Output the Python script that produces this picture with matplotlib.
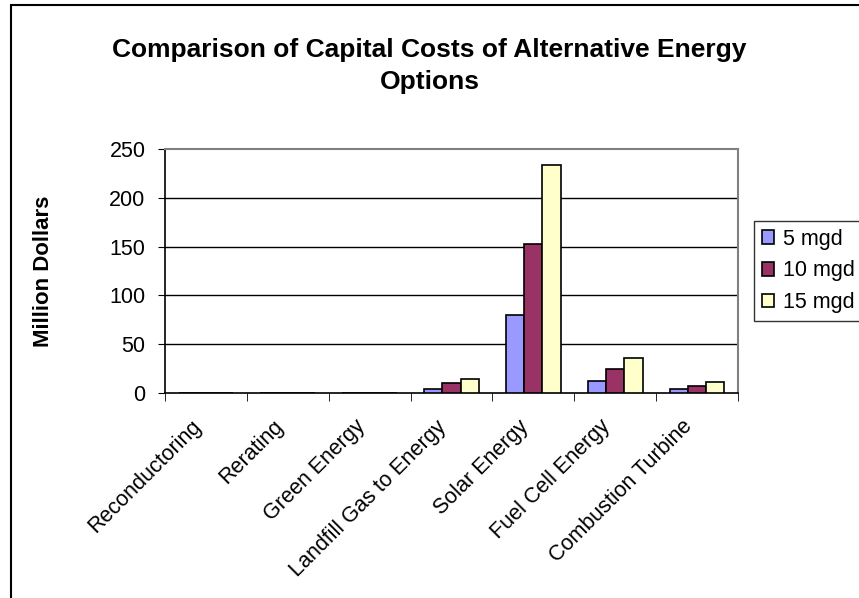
import matplotlib
matplotlib.use("Agg")
import matplotlib.pyplot as plt
import matplotlib.transforms as mtransforms
import numpy as np
from matplotlib.patches import Rectangle

categories = ["Reconductoring", "Rerating", "Green Energy", "Landfill Gas to Energy",
              "Solar Energy", "Fuel Cell Energy", "Combustion Turbine"]
series_names = ["5 mgd", "10 mgd", "15 mgd"]
mgd5 = [0, 0, 0, 4, 80, 12.5, 4]
mgd10 = [0, 0, 0, 10, 153, 25, 7]
mgd15 = [0, 0, 0, 14.5, 234, 36, 11]
colors = ["#9999FF", "#993366", "#FFFFCC"]

plt.rcParams["font.family"] = ["Liberation Sans", "DejaVu Sans"]

fig = plt.figure(figsize=(8.59, 5.98), dpi=100)
ax = fig.add_axes([165 / 859, 1 - 393 / 598, (738 - 165) / 859, (393 - 149) / 598])

# outer chart border (right/bottom run off the canvas)
fig.patches.append(Rectangle((11 / 859, -0.1), 1.2, 1 - 5 / 598 + 0.1,
                             transform=fig.transFigure, fill=False,
                             edgecolor="black", linewidth=1.5))

x = np.arange(len(categories))
w = 0.223
for i, (vals, name) in enumerate(zip([mgd5, mgd10, mgd15], series_names)):
    ax.bar(x + (i - 1) * w, vals, width=w, color=colors[i], edgecolor="black",
           linewidth=1.2, label=name, zorder=3)

ax.set_xlim(-0.5, len(categories) - 0.5)
ax.set_ylim(0, 250)
ax.set_yticks(range(0, 251, 50))
ax.tick_params(axis="y", labelsize=15.5, length=5, direction="out", pad=9)
ax.set_xticks(x)
ax.set_xticklabels(categories, rotation=45, ha="right", va="center",
                   rotation_mode="anchor", fontsize=15.5)
ax.tick_params(axis="x", length=0, pad=22)
# nudge category labels a little left, like the original
shift = mtransforms.ScaledTranslation(-8 / 100, 0, fig.dpi_scale_trans)
for lbl in ax.get_xticklabels():
    lbl.set_transform(lbl.get_transform() + shift)
ax.set_xticks(np.arange(-0.5, len(categories), 1), minor=True)
ax.tick_params(axis="x", which="minor", length=6, direction="out")

for v in [50, 100, 150, 200]:
    ax.axhline(v, color="black", linewidth=1, zorder=1)

ax.spines["top"].set_color("#808080")
ax.spines["right"].set_color("#808080")
ax.spines["top"].set_linewidth(1.5)
ax.spines["right"].set_linewidth(1.5)
ax.spines["left"].set_linewidth(1.2)
ax.spines["bottom"].set_linewidth(1.2)

fig.text(44 / 859, 1 - 271 / 598, "Million Dollars", rotation=90, ha="center", va="center",
         fontsize=16, fontweight="bold")
fig.text(0.5, 1 - 66 / 598, "Comparison of Capital Costs of Alternative Energy\nOptions",
         ha="center", va="center", fontsize=19, fontweight="bold", linespacing=1.45)

leg = ax.legend(loc="upper left", bbox_to_anchor=(754 / 859, 1 - 221 / 598),
                bbox_transform=fig.transFigure, fontsize=15.5, frameon=True, fancybox=False,
                handlelength=0.6, handleheight=0.6, handletextpad=0.4, borderpad=0.35,
                labelspacing=0.5, borderaxespad=0)
leg.get_frame().set_edgecolor("black")
leg.get_frame().set_linewidth(1.0)

fig.savefig("out.png", dpi=100)
